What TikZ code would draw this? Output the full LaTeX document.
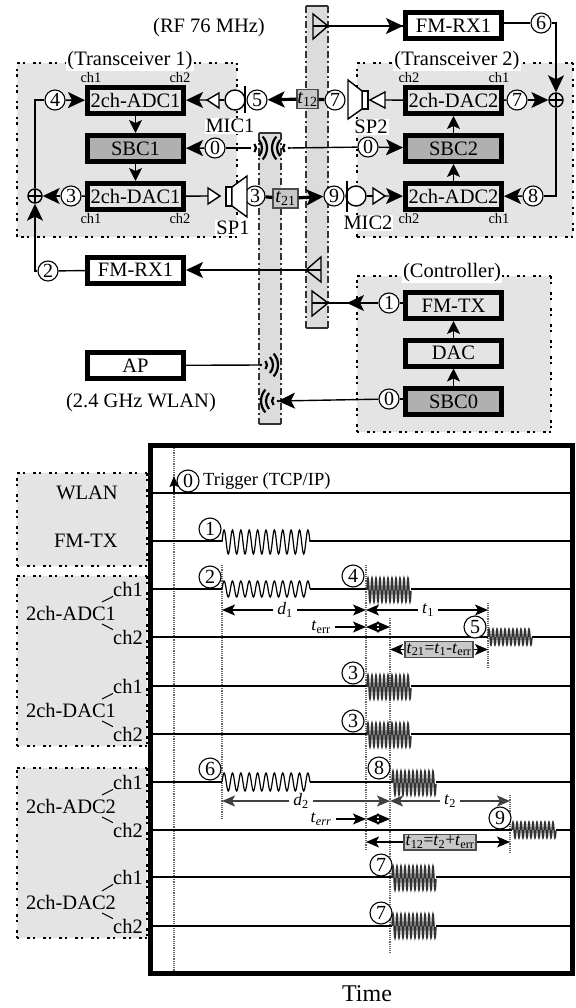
\documentclass[tikz,border=0pt]{standalone}
\usepackage{fontspec}
\setmainfont{Liberation Serif}
\usepackage{xcolor}
\usetikzlibrary{calc,arrows.meta}
\definecolor{boxgray}{RGB}{228,228,228}
\definecolor{bandgray}{RGB}{220,220,220}
\definecolor{sbcgray}{RGB}{176,176,176}
\definecolor{delaygray}{RGB}{200,200,200}
\tikzset{
  every node/.style={font=\fontsize{20.5}{22}\selectfont,text=black},
  wire/.style={black,line width=1.4pt},
  fatwire/.style={black,line width=3.2pt},
  bigarrow/.style={wire,-{Stealth[length=17pt,width=16pt,inset=4pt]}},
  smallarrow/.style={wire,-{Stealth[length=13pt,width=13pt,inset=3pt]}},
  fatarrow/.style={fatwire,-{Stealth[length=17pt,width=16pt,inset=4pt]}},
  timearrow/.style={black,line width=1.3pt,-{Stealth[length=13pt,width=11pt,inset=3pt]}},
  timearrowb/.style={timearrow,black!75,line width=1.7pt},
  twoarrow/.style={black,line width=1.3pt,{Stealth[length=13pt,width=11pt,inset=3pt]}-{Stealth[length=13pt,width=11pt,inset=3pt]}},
  unitbox/.style={draw=black,line width=5pt,minimum width=96pt,minimum height=26pt,inner sep=0pt},
  adcbox/.style={unitbox,fill=boxgray},
  sbcbox/.style={unitbox,fill=sbcgray},
  rxbox/.style={unitbox,fill=white},
  stepmark/.style={circle,draw=black,fill=white,line width=1.1pt,minimum size=20pt,inner sep=0pt,font=\fontsize{20}{20}\selectfont},
  timemark/.style={stepmark,minimum size=22pt},
  chlabel/.style={font=\fontsize{14.5}{15}\selectfont,inner sep=0pt},
  whitelabel/.style={fill=white,inner sep=1pt},
  delaybox/.style={draw=black!70,fill=delaygray,line width=1.2pt,inner sep=0pt,minimum height=19pt,font=\fontsize{20}{20}\selectfont},
  gapbox/.style={draw=black!70,fill=delaygray,line width=1.4pt,inner sep=1.5pt,font=\fontsize{17.5}{18}\selectfont},
  oplusnode/.style={circle,draw=black,line width=1.4pt,minimum size=14pt,inner sep=0pt,
    path picture={\draw[black,line width=1.2pt] (path picture bounding box.north)--(path picture bounding box.south)
      (path picture bounding box.west)--(path picture bounding box.east);}},
  ampshape/.style={black,fill=white,line width=1.4pt},
  dotline/.style={black,line width=2.6pt,dash pattern=on 2.5pt off 3pt on 2.5pt off 8pt},
  bandline/.style={black!80,line width=1.1pt,dash pattern=on 7pt off 3pt on 2pt off 3pt},
  wifiwave/.style={black,line width=2.2pt},
  sigline/.style={black,line width=1.1pt},
  slowwave/.style={black,line width=1.2pt},
  fastwave/.style={black!80,line width=1.5pt},
  dotmark/.style={black!60,line width=1.2pt,densely dotted},
  siglabel/.style={inner sep=0pt},
  timelabel/.style={font=\fontsize{17.5}{18}\selectfont,inner sep=4pt}
}
\newcommand{\dotbox}[4]{%
  \fill[boxgray] (#1,#2) rectangle (#3,#4);
  \draw[dotline] (#1,#2) -- (#3,#2);
  \draw[dotline] (#3,#2) -- (#3,#4);
  \draw[dotline] (#3,#4) -- (#1,#4);
  \draw[dotline] (#1,#4) -- (#1,#2);
}
\newcommand{\wifisym}[2]{%
  \fill[black] (#1) circle (1.3pt);
  \foreach \r in {6,12,17}
    \draw[wifiwave] ([shift={(#2-42:\r pt)}]#1) arc[start angle=#2-42,end angle=#2+42,radius=\r pt];
}
\newcommand{\sigwave}[6]{%
  \draw[#6] plot[domain=0:1,samples=#5*16+1] ({#1+\x*(#2-#1)},{#3-#4*sin(\x*360*#5)});
}
\begin{document}
\begin{tikzpicture}[x=1pt,y=-1pt]
\useasboundingbox (0,0) rectangle (575,1008);
% grey areas, drawn first
\dotbox{17}{63}{237}{237}
\dotbox{357}{63}{573}{237}
\dotbox{357}{276}{551}{432}
\fill[bandgray] (306,6) rectangle (328,328);
\draw[bandline] (306,6) -- (306,328);
\draw[bandline] (328,6) -- (328,328);
\draw[black!80,line width=1.1pt] (306,6) -- (328,6) (306,328) -- (328,328);
\fill[bandgray] (259,133) rectangle (281,424);
\draw[bandline] (259,133) -- (259,424);
\draw[bandline] (281,133) -- (281,424);
\draw[black!80,line width=1.1pt] (259,133) -- (281,133) (259,424) -- (281,424);
% titles
\node[siglabel] (rfname) at (209,28) {(RF 76 MHz)};
\node[whitelabel] (txoname) at (130,61) {(Transceiver 1)};
\node[whitelabel] (txtname) at (457,61) {(Transceiver 2)};
\node[whitelabel] (ctrlname) at (452,273) {(Controller)};
\node[siglabel] (wlanname) at (141,403) {(2.4 GHz WLAN)};
% transceiver 1
\node[adcbox] (adco) at (135.5,100.5) {2ch-ADC1};
\node[sbcbox] (sbco) at (135.5,148.5) {SBC1};
\node[adcbox] (daco) at (135.5,196.5) {2ch-DAC1};
\node[chlabel] (cha) at (91,78) {ch1};
\node[chlabel] (chb) at (180,78) {ch2};
\node[chlabel] (chc) at (91,219) {ch1};
\node[chlabel] (chd) at (180,219) {ch2};
\node[stepmark] (sfour) at (55,100) {4};
\node[stepmark] (sthreea) at (71,196) {3};
\node[oplusnode] (plusa) at (35,196) {};
\node[stepmark] (sfive) at (257,100) {5};
\node[stepmark] (szeroa) at (215,148) {0};
\node[stepmark] (sthreeb) at (255,196) {3};
\coordinate (wifia) at (250,148);
\coordinate (wifib) at (289,148);
\coordinate (cornera) at (35,100);
\coordinate (cornerb) at (35,271);
\draw[smallarrow] (adco) -- (sbco);
\draw[smallarrow] (sbco) -- (daco);
\draw[wire] (plusa) -- (cornera) -- (sfour);
\draw[bigarrow] (sfour) -- (adco);
\draw[wire] (daco) -- (sthreea);
\draw[bigarrow] (sthreea) -- (plusa);
\draw[bigarrow] (szeroa) -- (sbco);
\draw[wire] (szeroa) -- (wifia);
% mic 1 and speaker 1
\node[circle,draw=black,fill=white,line width=1.4pt,minimum size=20pt,inner sep=0pt] (mica) at (235,100) {};
\coordinate (bartopa) at (245,86);
\coordinate (barlowa) at (245,113);
\draw[black,line width=2.6pt] (bartopa) -- (barlowa);
\coordinate (ampabase) at (219,100);
\coordinate (ampatip) at (207,100);
\draw[wire] (mica) -- (ampabase);
\draw[ampshape] (219,93) -- (ampatip) -- (219,108) -- cycle;
\draw[bigarrow] (ampatip) -- (adco);
\coordinate (ampbbase) at (208,196);
\coordinate (ampbtip) at (220,196);
\draw[wire] (daco) -- (ampbbase);
\draw[ampshape] (208,188) -- (ampbtip) -- (208,204) -- cycle;
\draw[ampshape] (226,187) rectangle (232,206);
\draw[ampshape] (232,187) -- (247,176) -- (247,217) -- (232,206) -- cycle;
\node[whitelabel] (micname) at (230,126) {MIC1};
\node[whitelabel] (spkname) at (233,228) {SP1};
% transceiver 2
\node[adcbox] (dact) at (453.5,100.5) {2ch-DAC2};
\node[sbcbox] (sbct) at (453.5,148.5) {SBC2};
\node[adcbox] (adct) at (453.5,196.5) {2ch-ADC2};
\node[chlabel] (che) at (409,78) {ch2};
\node[chlabel] (chf) at (499,78) {ch1};
\node[chlabel] (chg) at (409,219) {ch2};
\node[chlabel] (chh) at (499,219) {ch1};
\node[rxbox] (rxt) at (453.5,26) {FM-RX1};
\node[stepmark] (ssix) at (541,23) {6};
\node[stepmark] (ssevena) at (517,100) {7};
\node[stepmark] (seight) at (533,196) {8};
\node[stepmark] (szerob) at (368,147) {0};
\node[stepmark] (ssevenb) at (335,100) {7};
\node[stepmark] (snine) at (334,196) {9};
\node[oplusnode] (plusb) at (556,100) {};
\coordinate (cornerc) at (556,23);
\coordinate (cornerd) at (556,196);
\draw[smallarrow] (sbct) -- (dact);
\draw[smallarrow] (adct) -- (sbct);
\draw[wire] (ssix) -- (ssix -| rxt.east);
\draw[bigarrow] (ssix) -- (cornerc) -- (plusb);
\draw[wire] (dact) -- (ssevena);
\draw[bigarrow] (ssevena) -- (plusb);
\draw[wire] (plusb) -- (cornerd) -- (seight);
\draw[bigarrow] (seight) -- (adct);
\draw[wire] (wifib) -- (szerob);
\draw[bigarrow] (szerob) -- (sbct);
% mic 2 and speaker 2
\node[circle,draw=black,fill=white,line width=1.4pt,minimum size=20pt,inner sep=0pt] (mict) at (356,196) {};
\coordinate (bartopb) at (347,181);
\coordinate (barlowb) at (347,212);
\draw[black,line width=2.6pt] (bartopb) -- (barlowb);
\coordinate (ampcbase) at (373,196);
\coordinate (ampctip) at (385,196);
\draw[wire] (mict) -- (ampcbase);
\draw[ampshape] (373,188) -- (ampctip) -- (373,204) -- cycle;
\draw[bigarrow] (ampctip) -- (adct);
\coordinate (ampdbase) at (385,100);
\coordinate (ampdtip) at (370,100);
\draw[wire] (dact) -- (ampdbase);
\draw[ampshape] (385,92) -- (ampdtip) -- (385,108) -- cycle;
\draw[ampshape] (362,91) rectangle (368,109);
\draw[ampshape] (362,91) -- (348,80) -- (348,119) -- (362,109) -- cycle;
\node[whitelabel] (micnamet) at (368,223) {MIC2};
\node[whitelabel] (spknamet) at (371,127) {SP2};
% delays over the bands
\node[delaybox,minimum width=21pt] (dlyot) at (307.5,99) {\textit{t}\textsubscript{12}};
\node[delaybox,minimum width=25pt] (dlyto) at (285.5,198.5) {\textit{t}\textsubscript{21}};
\draw[fatwire] (ssevenb) -- (dlyot);
\draw[fatarrow] (dlyot) -- (sfive);
\draw[fatwire] (sthreeb) -- (dlyto);
\draw[fatarrow] (dlyto) -- (snine);
% controller
\node[adcbox] (fmtx) at (453.5,305.5) {FM-TX};
\node[adcbox] (dac) at (453.5,353) {DAC};
\node[sbcbox] (sbcz) at (453.5,401.5) {SBC0};
\node[stepmark] (sone) at (389,303) {1};
\node[stepmark] (szeroc) at (389,399) {0};
\node[rxbox] (rxo) at (135.5,270) {FM-RX1};
\node[rxbox] (ap) at (135.5,365.5) {AP};
\node[stepmark] (stwo) at (48,271) {2};
\coordinate (antatip) at (328,26);
\coordinate (antabase) at (313,26);
\coordinate (antbtip) at (306,270);
\coordinate (antbbase) at (321,270);
\coordinate (antctip) at (328,303);
\coordinate (antcbase) at (312,303);
\coordinate (ctrlhead) at (347,303);
\coordinate (wific) at (261,365);
\coordinate (wifid) at (278,401);
\draw[smallarrow] (sbcz) -- (dac);
\draw[smallarrow] (dac) -- (fmtx);
\draw[wire] (sone) -- (sone -| fmtx.west);
\draw[wire] (szeroc) -- (szeroc -| sbcz.west);
\draw[wire] (sone) -- (antcbase);
\draw[bigarrow] (sone) -- (ctrlhead);
\draw[bigarrow] (szeroc) -- (wifid);
\draw[wire] (antabase) -- (antabase -| rxt.west);
\draw[bigarrow] (antatip) -- (rxt);
\draw[bigarrow] (antbbase) -- (rxo);
\draw[wire] (stwo) -- (rxo);
\draw[bigarrow] (stwo) -- (cornerb) -- (plusa);
\draw[wire] (ap) -- (wific);
\draw[wire] (313,14) -- (antatip) -- (313,39) -- cycle;
\draw[wire] (321,257) -- (antbtip) -- (321,282) -- cycle;
\draw[wire] (312,291) -- (antctip) -- (312,316) -- cycle;
\wifisym{wifia}{0}
\wifisym{wifib}{180}
\wifisym{wific}{0}
\wifisym{wifid}{180}
% timing chart
\draw[black,line width=5pt] (150.5,445.5) rectangle (572.5,973.5);
\dotbox{17}{473}{147}{566}
\dotbox{17}{576}{147}{746}
\dotbox{17}{768}{147}{938}
\coordinate (dota) at (174,448);
\coordinate (dotalow) at (174,971);
\coordinate (dotb) at (222,565);
\coordinate (dotblow) at (222,820);
\coordinate (dotc) at (366,565);
\coordinate (dotclow) at (366,850);
\coordinate (dotd) at (390,618);
\coordinate (dotdlow) at (390,953);
\coordinate (dote) at (488,603);
\coordinate (dotelow) at (488,667);
\coordinate (dotf) at (510,795);
\coordinate (dotflow) at (510,854);
\foreach \nm in {dota,dotb,dotc,dotd,dote,dotf}
  \draw[dotmark] (\nm) -- (\nm low);
% signal lines
\foreach \ya/\xa/\xb in {493/152/570,541/152/222,541/310/570,589/152/222,589/310/367,589/411/570,
    637/152/488,637/532/570,686/152/367,686/411/570,734/152/367,734/411/570,
    782/152/222,782/310/392,782/436/570,830/152/512,830/556/570,
    877/152/392,877/436/570,926/152/392,926/436/570}
  \draw[sigline] (\xa,\ya) -- (\xb,\ya);
\sigwave{222}{310}{542}{12}{10.5}{slowwave}
\sigwave{222}{310}{589}{8}{10.5}{slowwave}
\sigwave{222}{310}{782}{9}{10.5}{slowwave}
\sigwave{367}{411}{590}{12}{11}{fastwave}
\sigwave{488}{532}{637}{8}{11}{fastwave}
\sigwave{367}{411}{687}{12}{11}{fastwave}
\sigwave{367}{411}{735}{12}{11}{fastwave}
\sigwave{392}{436}{783}{12}{11}{fastwave}
\sigwave{512}{556}{830}{8}{11}{fastwave}
\sigwave{392}{436}{878}{12}{11}{fastwave}
\sigwave{392}{436}{926}{12}{11}{fastwave}
% step marks
\coordinate (trigfoot) at (174,493);
\coordinate (trighead) at (174,476);
\draw[black,line width=1.2pt,-{Stealth[length=11pt,width=9pt,inset=2pt]}] (trigfoot) -- (trighead);
\node[timemark] (tzero) at (188,481) {0};
\node[siglabel,anchor=west,font=\fontsize{18.5}{19}\selectfont] (trigtext) at (203,481) {Trigger (TCP/IP)};
\node[timemark] (tone) at (210,529) {1};
\node[timemark] (ttwo) at (210,577) {2};
\node[timemark] (tsix) at (210,769) {6};
\node[timemark] (tfour) at (353,576) {4};
\node[timemark] (tfive) at (475,627) {5};
\node[timemark] (tthreea) at (353,673) {3};
\node[timemark] (tthreeb) at (353,721) {3};
\node[timemark] (teight) at (379,768) {8};
\node[timemark] (tnine) at (500,818) {9};
\node[timemark] (tsevena) at (381,865) {7};
\node[timemark] (tsevenb) at (381,913) {7};
% row names
\node[siglabel,anchor=east] (rowwlan) at (118,493) {WLAN};
\node[siglabel,anchor=east] (rowfm) at (118,541) {FM-TX};
\foreach \nm/\txt/\yc/\yu/\yd in {adca/2ch-ADC1/613/589/637,daca/2ch-DAC1/710/686/734,adcb/2ch-ADC2/806/782/830,dacb/2ch-DAC2/902/877/926}{
  \node[siglabel] (\nm) at (71,\yc) {\txt};
  \node[siglabel] (\nm up) at (128,\yu) {ch1};
  \node[siglabel] (\nm dn) at (128,\yd) {ch2};
  \draw[black,line width=1pt] (102,\yc-11) -- (\nm up.south west);
  \draw[black,line width=1pt] (102,\yc+11) -- (\nm dn.north west);
}
% delay arrows
\node[timelabel] (labda) at (285,610) {\textit{d}\textsubscript{1}};
\node[timelabel] (labta) at (428,610) {\textit{t}\textsubscript{1}};
\node[timelabel] (laberra) at (321,627) {\textit{t}\textsubscript{err}};
\node[gapbox] (labtwoone) at (439,649.5) {\textit{t}\textsubscript{21}=\textit{t}\textsubscript{1}-\textit{t}\textsubscript{err}};
\draw[timearrow] (labda) -- (labda -| dotb);
\draw[timearrow] (labda) -- (labda -| dotc);
\draw[timearrow] (labta) -- (labta -| dotc);
\draw[timearrow] (labta) -- (labta -| dote);
\draw[timearrow] (laberra) -- (laberra -| dotc);
\draw[twoarrow] (laberra -| dotc) -- (laberra -| dotd);
\draw[timearrow] (labtwoone) -- (labtwoone -| dotd);
\draw[timearrow] (labtwoone) -- (labtwoone -| dote);
\node[timelabel] (labdb) at (301,801) {\textit{d}\textsubscript{2}};
\node[timelabel] (labtb) at (450,801) {\textit{t}\textsubscript{2}};
\node[timelabel] (laberrb) at (321,819) {\textit{t}\textsubscript{\textit{err}}};
\node[gapbox] (labonetwo) at (440,842) {\textit{t}\textsubscript{12}=\textit{t}\textsubscript{2}+\textit{t}\textsubscript{err}};
\draw[timearrowb] (labdb) -- (labdb -| dotb);
\draw[timearrowb] (labdb) -- (labdb -| dotd);
\draw[timearrowb] (labtb) -- (labtb -| dotd);
\draw[timearrowb] (labtb) -- (labtb -| dotf);
\draw[timearrow] (laberrb) -- (laberrb -| dotc);
\draw[twoarrow] (laberrb -| dotc) -- (laberrb -| dotd);
\draw[timearrow] (labonetwo) -- (labonetwo -| dotc);
\draw[timearrow] (labonetwo) -- (labonetwo -| dotf);
\node[siglabel,font=\fontsize{24}{25}\selectfont] (timename) at (367,994) {Time};
\end{tikzpicture}
\end{document}
